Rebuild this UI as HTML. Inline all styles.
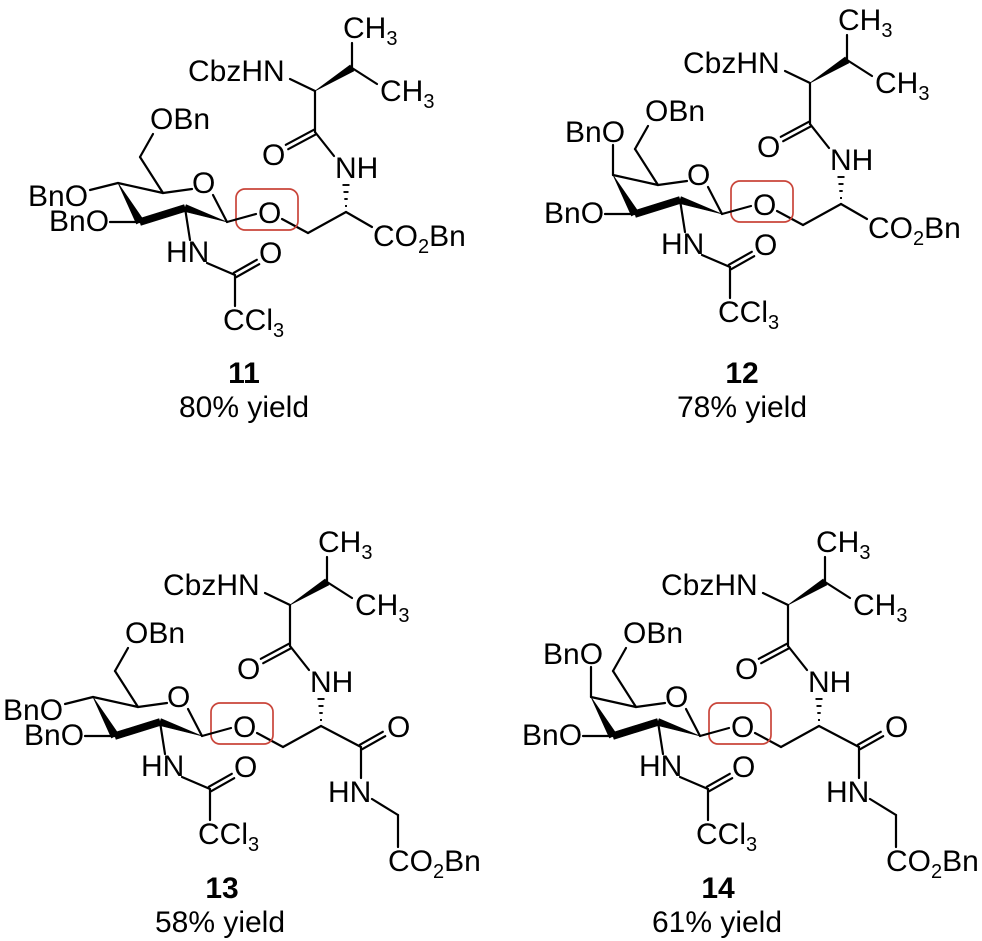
<!DOCTYPE html>
<html><head><meta charset="utf-8"><style>
html,body{margin:0;padding:0;background:#fff;}
svg{display:block;}
text{font-family:"Liberation Sans",Arial,sans-serif;font-size:30px;fill:#000;}
.lb{font-weight:bold;}
line,polyline{stroke:#000;stroke-width:2.2;fill:none;stroke-linecap:round;}
polygon{fill:#000;stroke:#000;stroke-width:0.6;stroke-linejoin:round;}
.hash line{stroke-width:1.9;stroke-linecap:butt;}
.box{fill:none;stroke:#c9453a;stroke-width:1.7;}
</style></head><body>
<svg width="982" height="941" viewBox="0 0 982 941" xmlns="http://www.w3.org/2000/svg">

<!-- ============ 11 ============ -->
<g>
<text x="343" y="38">CH<tspan font-size="20" dy="7">3</tspan></text>
<text x="188" y="81">CbzHN</text>
<text x="380" y="101">CH<tspan font-size="20" dy="7">3</tspan></text>
<line x1="352" y1="68" x2="352" y2="43"/>
<line x1="352" y1="68" x2="377" y2="84"/>
<polygon points="315,91 353.9,71 350.1,65"/>
<line x1="290" y1="79" x2="315" y2="91"/>
<line x1="315" y1="91" x2="315" y2="132"/>
<line x1="313.8" y1="129.8" x2="285.8" y2="144.8"/>
<line x1="316.2" y1="134.2" x2="288.2" y2="149.2"/>
<text x="262" y="165">O</text>
<line x1="315" y1="132" x2="334" y2="156"/>
<text x="335" y="178">NH</text>
<g class="hash">
<line x1="342.5" y1="185" x2="349.5" y2="185"/>
<line x1="343.5" y1="192" x2="348.5" y2="192"/>
<line x1="344.3" y1="199" x2="347.7" y2="199"/>
<line x1="345" y1="206" x2="347" y2="206"/>
</g>
<line x1="346" y1="212" x2="308" y2="233"/>
<line x1="308" y1="233" x2="282" y2="219"/>
<text x="258" y="223">O</text>
<rect class="box" x="236" y="189" width="62" height="41" rx="9" ry="9"/>
<line x1="227" y1="222" x2="256" y2="214"/>
<line x1="227" y1="222" x2="213" y2="195"/>
<text x="192" y="193">O</text>
<line x1="192" y1="189" x2="163" y2="193"/>
<line x1="163" y1="193" x2="118" y2="183"/>
<line x1="163" y1="193" x2="140" y2="157"/>
<line x1="140" y1="157" x2="153" y2="134"/>
<text x="150" y="129">OBn</text>
<polygon points="118,183 143.5,220 136.5,224"/>
<polygon points="139,218.7 184,204.7 186,211.3 141,225.3"/>
<polygon points="186.1,204.7 183.9,211.3 227,222"/>
<line x1="140" y1="222" x2="110" y2="222"/>
<text x="49" y="231">BnO</text>
<line x1="185" y1="208" x2="190" y2="240"/>
<text x="166" y="262">HN</text>
<line x1="207" y1="263" x2="235" y2="275"/>
<line x1="233.8" y1="272.8" x2="256.8" y2="259.8"/>
<line x1="236.2" y1="277.2" x2="259.2" y2="264.2"/>
<text x="259" y="263">O</text>
<line x1="235" y1="275" x2="235" y2="306"/>
<text x="223" y="330">CCl<tspan font-size="20" dy="7">3</tspan></text>
<line x1="118" y1="183" x2="90" y2="190"/>
<text x="28" y="206">BnO</text>
<line x1="346" y1="212" x2="372" y2="227"/>
<text x="373" y="246">CO<tspan font-size="20" dy="7">2</tspan><tspan dy="-7">Bn</tspan></text>
</g>

<!-- ============ 12 ============ -->
<g transform="translate(495,-8)">
<text x="343" y="38">CH<tspan font-size="20" dy="7">3</tspan></text>
<text x="188" y="81">CbzHN</text>
<text x="380" y="101">CH<tspan font-size="20" dy="7">3</tspan></text>
<line x1="352" y1="68" x2="352" y2="43"/>
<line x1="352" y1="68" x2="377" y2="84"/>
<polygon points="315,91 353.9,71 350.1,65"/>
<line x1="290" y1="79" x2="315" y2="91"/>
<line x1="315" y1="91" x2="315" y2="132"/>
<line x1="313.8" y1="129.8" x2="285.8" y2="144.8"/>
<line x1="316.2" y1="134.2" x2="288.2" y2="149.2"/>
<text x="262" y="165">O</text>
<line x1="315" y1="132" x2="334" y2="156"/>
<text x="335" y="178">NH</text>
<g class="hash">
<line x1="342.5" y1="185" x2="349.5" y2="185"/>
<line x1="343.5" y1="192" x2="348.5" y2="192"/>
<line x1="344.3" y1="199" x2="347.7" y2="199"/>
<line x1="345" y1="206" x2="347" y2="206"/>
</g>
<line x1="346" y1="212" x2="308" y2="233"/>
<line x1="308" y1="233" x2="282" y2="219"/>
<text x="258" y="223">O</text>
<rect class="box" x="236" y="189" width="62" height="41" rx="9" ry="9"/>
<line x1="227" y1="222" x2="256" y2="214"/>
<line x1="227" y1="222" x2="213" y2="195"/>
<text x="192" y="193">O</text>
<line x1="192" y1="189" x2="163" y2="193"/>
<line x1="163" y1="193" x2="118" y2="183"/>
<line x1="163" y1="193" x2="140" y2="157"/>
<line x1="140" y1="157" x2="153" y2="134"/>
<text x="150" y="129">OBn</text>
<polygon points="118,183 143.5,220 136.5,224"/>
<polygon points="139,218.7 184,204.7 186,211.3 141,225.3"/>
<polygon points="186.1,204.7 183.9,211.3 227,222"/>
<line x1="140" y1="222" x2="110" y2="222"/>
<text x="49" y="231">BnO</text>
<line x1="185" y1="208" x2="190" y2="240"/>
<text x="166" y="262">HN</text>
<line x1="207" y1="263" x2="235" y2="275"/>
<line x1="233.8" y1="272.8" x2="256.8" y2="259.8"/>
<line x1="236.2" y1="277.2" x2="259.2" y2="264.2"/>
<text x="259" y="263">O</text>
<line x1="235" y1="275" x2="235" y2="306"/>
<text x="223" y="330">CCl<tspan font-size="20" dy="7">3</tspan></text>
<line x1="118" y1="183" x2="118" y2="153"/>
<text x="70" y="150">BnO</text>
<line x1="346" y1="212" x2="372" y2="227"/>
<text x="373" y="246">CO<tspan font-size="20" dy="7">2</tspan><tspan dy="-7">Bn</tspan></text>
</g>

<!-- ============ 13 ============ -->
<g transform="translate(-25,514)">
<text x="343" y="38">CH<tspan font-size="20" dy="7">3</tspan></text>
<text x="188" y="81">CbzHN</text>
<text x="380" y="101">CH<tspan font-size="20" dy="7">3</tspan></text>
<line x1="352" y1="68" x2="352" y2="43"/>
<line x1="352" y1="68" x2="377" y2="84"/>
<polygon points="315,91 353.9,71 350.1,65"/>
<line x1="290" y1="79" x2="315" y2="91"/>
<line x1="315" y1="91" x2="315" y2="132"/>
<line x1="313.8" y1="129.8" x2="285.8" y2="144.8"/>
<line x1="316.2" y1="134.2" x2="288.2" y2="149.2"/>
<text x="262" y="165">O</text>
<line x1="315" y1="132" x2="334" y2="156"/>
<text x="335" y="178">NH</text>
<g class="hash">
<line x1="342.5" y1="185" x2="349.5" y2="185"/>
<line x1="343.5" y1="192" x2="348.5" y2="192"/>
<line x1="344.3" y1="199" x2="347.7" y2="199"/>
<line x1="345" y1="206" x2="347" y2="206"/>
</g>
<line x1="346" y1="212" x2="308" y2="233"/>
<line x1="308" y1="233" x2="282" y2="219"/>
<text x="258" y="223">O</text>
<rect class="box" x="236" y="189" width="62" height="41" rx="9" ry="9"/>
<line x1="227" y1="222" x2="256" y2="214"/>
<line x1="227" y1="222" x2="213" y2="195"/>
<text x="192" y="193">O</text>
<line x1="192" y1="189" x2="163" y2="193"/>
<line x1="163" y1="193" x2="118" y2="183"/>
<line x1="163" y1="193" x2="140" y2="157"/>
<line x1="140" y1="157" x2="153" y2="134"/>
<text x="150" y="129">OBn</text>
<polygon points="118,183 143.5,220 136.5,224"/>
<polygon points="139,218.7 184,204.7 186,211.3 141,225.3"/>
<polygon points="186.1,204.7 183.9,211.3 227,222"/>
<line x1="140" y1="222" x2="110" y2="222"/>
<text x="49" y="231">BnO</text>
<line x1="185" y1="208" x2="190" y2="240"/>
<text x="166" y="262">HN</text>
<line x1="207" y1="263" x2="235" y2="275"/>
<line x1="233.8" y1="272.8" x2="256.8" y2="259.8"/>
<line x1="236.2" y1="277.2" x2="259.2" y2="264.2"/>
<text x="259" y="263">O</text>
<line x1="235" y1="275" x2="235" y2="306"/>
<text x="223" y="330">CCl<tspan font-size="20" dy="7">3</tspan></text>
<line x1="118" y1="183" x2="90" y2="190"/>
<text x="28" y="206">BnO</text>
<line x1="346" y1="212" x2="386" y2="233"/>
<line x1="384.8" y1="230.8" x2="407.8" y2="217.8"/>
<line x1="387.2" y1="235.2" x2="410.2" y2="222.2"/>
<text x="412" y="223">O</text>
<line x1="386" y1="233" x2="386" y2="264"/>
<text x="353" y="288">HN</text>
<line x1="397" y1="285" x2="423" y2="301"/>
<line x1="423" y1="301" x2="423" y2="333"/>
<text x="413" y="357">CO<tspan font-size="20" dy="7">2</tspan><tspan dy="-7">Bn</tspan></text>
</g>

<!-- ============ 14 ============ -->
<g transform="translate(473,514)">
<text x="343" y="38">CH<tspan font-size="20" dy="7">3</tspan></text>
<text x="188" y="81">CbzHN</text>
<text x="380" y="101">CH<tspan font-size="20" dy="7">3</tspan></text>
<line x1="352" y1="68" x2="352" y2="43"/>
<line x1="352" y1="68" x2="377" y2="84"/>
<polygon points="315,91 353.9,71 350.1,65"/>
<line x1="290" y1="79" x2="315" y2="91"/>
<line x1="315" y1="91" x2="315" y2="132"/>
<line x1="313.8" y1="129.8" x2="285.8" y2="144.8"/>
<line x1="316.2" y1="134.2" x2="288.2" y2="149.2"/>
<text x="262" y="165">O</text>
<line x1="315" y1="132" x2="334" y2="156"/>
<text x="335" y="178">NH</text>
<g class="hash">
<line x1="342.5" y1="185" x2="349.5" y2="185"/>
<line x1="343.5" y1="192" x2="348.5" y2="192"/>
<line x1="344.3" y1="199" x2="347.7" y2="199"/>
<line x1="345" y1="206" x2="347" y2="206"/>
</g>
<line x1="346" y1="212" x2="308" y2="233"/>
<line x1="308" y1="233" x2="282" y2="219"/>
<text x="258" y="223">O</text>
<rect class="box" x="236" y="189" width="62" height="41" rx="9" ry="9"/>
<line x1="227" y1="222" x2="256" y2="214"/>
<line x1="227" y1="222" x2="213" y2="195"/>
<text x="192" y="193">O</text>
<line x1="192" y1="189" x2="163" y2="193"/>
<line x1="163" y1="193" x2="118" y2="183"/>
<line x1="163" y1="193" x2="140" y2="157"/>
<line x1="140" y1="157" x2="153" y2="134"/>
<text x="150" y="129">OBn</text>
<polygon points="118,183 143.5,220 136.5,224"/>
<polygon points="139,218.7 184,204.7 186,211.3 141,225.3"/>
<polygon points="186.1,204.7 183.9,211.3 227,222"/>
<line x1="140" y1="222" x2="110" y2="222"/>
<text x="49" y="231">BnO</text>
<line x1="185" y1="208" x2="190" y2="240"/>
<text x="166" y="262">HN</text>
<line x1="207" y1="263" x2="235" y2="275"/>
<line x1="233.8" y1="272.8" x2="256.8" y2="259.8"/>
<line x1="236.2" y1="277.2" x2="259.2" y2="264.2"/>
<text x="259" y="263">O</text>
<line x1="235" y1="275" x2="235" y2="306"/>
<text x="223" y="330">CCl<tspan font-size="20" dy="7">3</tspan></text>
<line x1="118" y1="183" x2="118" y2="153"/>
<text x="70" y="150">BnO</text>
<line x1="346" y1="212" x2="386" y2="233"/>
<line x1="384.8" y1="230.8" x2="407.8" y2="217.8"/>
<line x1="387.2" y1="235.2" x2="410.2" y2="222.2"/>
<text x="412" y="223">O</text>
<line x1="386" y1="233" x2="386" y2="264"/>
<text x="353" y="288">HN</text>
<line x1="397" y1="285" x2="423" y2="301"/>
<line x1="423" y1="301" x2="423" y2="333"/>
<text x="413" y="357">CO<tspan font-size="20" dy="7">2</tspan><tspan dy="-7">Bn</tspan></text>
</g>

<!-- labels -->
<text class="lb" x="244" y="383" text-anchor="middle">11</text>
<text x="244" y="417" text-anchor="middle">80% yield</text>
<text class="lb" x="742" y="383" text-anchor="middle">12</text>
<text x="742" y="417" text-anchor="middle">78% yield</text>
<text class="lb" x="222" y="898" text-anchor="middle">13</text>
<text x="220" y="932" text-anchor="middle">58% yield</text>
<text class="lb" x="718" y="898" text-anchor="middle">14</text>
<text x="717" y="932" text-anchor="middle">61% yield</text>
</svg>
</body></html>
